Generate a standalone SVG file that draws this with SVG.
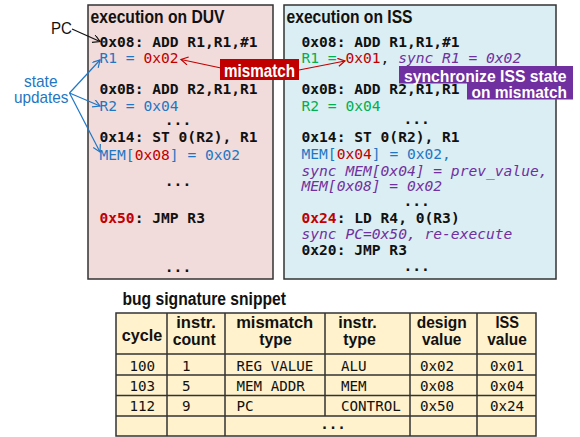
<svg xmlns="http://www.w3.org/2000/svg" width="580" height="437" viewBox="0 0 580 437">
  <style>
    .panel { stroke: #333; stroke-width: 1.5; }
    .title { font-family: "Liberation Sans", Arial, sans-serif; font-weight: bold; font-size: 18px; fill: #111; }
    .code { font-family: "DejaVu Sans Mono", "Liberation Mono", monospace; font-size: 14.6px; }
    .b { font-weight: bold; fill: #111; }
    .blue { fill: #1f77c4; }
    .red { fill: #c00000; }
    .green { fill: #00b050; }
    .sync { fill: #7030a0; font-style: italic; }
    .note { font-family: "Liberation Sans", Arial, sans-serif; font-size: 17px; }
    .tag { font-family: "Liberation Sans", Arial, sans-serif; font-weight: bold; fill: #fff; }
    .hdr { font-family: "Liberation Sans", Arial, sans-serif; font-weight: bold; font-size: 16.5px; fill: #111; text-anchor: middle; }
    .cell { font-family: "DejaVu Sans Mono", "Liberation Mono", monospace; font-size: 14.2px; fill: #111; }
    .grid { stroke: #333; stroke-width: 1.5; fill: none; }
  </style>
  <defs>
    <marker id="arrBlack" markerWidth="10" markerHeight="10" refX="8" refY="4" orient="auto" markerUnits="userSpaceOnUse">
      <path d="M1,0 L8,4 L1,8" fill="none" stroke="#111" stroke-width="1.2"/>
    </marker>
    <marker id="arrBlue" markerWidth="10" markerHeight="10" refX="8" refY="4" orient="auto" markerUnits="userSpaceOnUse">
      <path d="M1,0 L8,4 L1,8" fill="none" stroke="#1f77c4" stroke-width="1.2"/>
    </marker>
    <marker id="arrRed" markerWidth="10" markerHeight="10" refX="8" refY="4" orient="auto" markerUnits="userSpaceOnUse">
      <path d="M1,0 L8,4 L1,8" fill="none" stroke="#c00000" stroke-width="1.2"/>
    </marker>
  </defs>

  <!-- DUV execution trace -->
  <g id="duv">
    <rect class="panel" x="88" y="5" width="185" height="274" fill="#f2dcdb"/>
    <text class="title" x="90.5" y="22.5" textLength="134" lengthAdjust="spacingAndGlyphs">execution on DUV</text>
    <g class="code">
      <text class="b" x="99.5" y="46.5">0x08: ADD R1,R1,#1</text>
      <text x="99.5" y="63"><tspan class="blue">R1 = </tspan><tspan class="red">0x02</tspan></text>
      <text class="b" x="99.5" y="94">0x0B: ADD R2,R1,R1</text>
      <text class="blue" x="99.5" y="111">R2 = 0x04</text>
      <text class="b" x="178" y="125" text-anchor="middle">...</text>
      <text class="b" x="99.5" y="141.5">0x14: ST 0(R2), R1</text>
      <text x="99.5" y="159.5"><tspan class="blue">MEM[</tspan><tspan class="red">0x08</tspan><tspan class="blue">] = 0x02</tspan></text>
      <text class="b" x="178" y="186" text-anchor="middle">...</text>
      <text class="b" x="99.5" y="223"><tspan class="red">0x50</tspan>: JMP R3</text>
      <text class="b" x="178" y="272" text-anchor="middle">...</text>
    </g>
  </g>

  <!-- ISS execution trace -->
  <g id="iss">
    <rect class="panel" x="284" y="5" width="272" height="274" fill="#dbeef3"/>
    <text class="title" x="286.5" y="22.5" textLength="126" lengthAdjust="spacingAndGlyphs">execution on ISS</text>
    <g class="code">
      <text class="b" x="301.5" y="46.5">0x08: ADD R1,R1,#1</text>
      <text x="301.5" y="63"><tspan class="green">R1 = </tspan><tspan class="red">0x01</tspan><tspan fill="#111">, </tspan><tspan class="sync">sync R1 = 0x02</tspan></text>
      <text class="b" x="301.5" y="94">0x0B: ADD R2,R1,R1</text>
      <text class="green" x="301.5" y="111">R2 = 0x04</text>
      <text class="b" x="416.7" y="124" text-anchor="middle">...</text>
      <text class="b" x="301.5" y="141.5">0x14: ST 0(R2), R1</text>
      <text x="301.5" y="159"><tspan class="blue">MEM[</tspan><tspan class="red">0x04</tspan><tspan class="blue">] = 0x02,</tspan></text>
      <text class="sync" x="301.5" y="175.5">sync MEM[0x04] = prev_value,</text>
      <text class="sync" x="301.5" y="191">MEM[0x08] = 0x02</text>
      <text class="b" x="416.7" y="205.5" text-anchor="middle">...</text>
      <text class="b" x="301.5" y="223"><tspan class="red">0x24</tspan>: LD R4, 0(R3)</text>
      <text class="sync" x="301.5" y="239">sync PC=0x50, re-execute</text>
      <text class="b" x="301.5" y="255">0x20: JMP R3</text>
      <text class="b" x="416.7" y="270.5" text-anchor="middle">...</text>
    </g>
  </g>

  <!-- program counter label -->
  <g id="pc-label">
    <text class="note" x="51" y="34" fill="#111" textLength="21" lengthAdjust="spacingAndGlyphs">PC</text>
  </g>

  <!-- state updates label -->
  <g id="state-updates">
    <text class="note blue" x="24" y="87" font-size="16" textLength="33.5" lengthAdjust="spacingAndGlyphs">state</text>
    <text class="note blue" x="14" y="102.5" font-size="16" textLength="54.5" lengthAdjust="spacingAndGlyphs">updates</text>
  </g>

  <!-- mismatch tag -->
  <g id="mismatch">
    <rect x="220" y="59" width="79" height="21" fill="#c00000"/>
    <text class="tag" x="224" y="76.5" font-size="18" textLength="71" lengthAdjust="spacingAndGlyphs">mismatch</text>
  </g>

  <!-- synchronization tag -->
  <g id="sync-tag">
    <rect x="399" y="66" width="174" height="17.5" fill="#7030a0"/>
    <rect x="467" y="83" width="106" height="16.5" fill="#7030a0"/>
    <text class="tag" x="404" y="81.5" font-size="16" textLength="162.5" lengthAdjust="spacingAndGlyphs">synchronize ISS state</text>
    <text class="tag" x="471.5" y="97.5" font-size="16" textLength="95.5" lengthAdjust="spacingAndGlyphs">on mismatch</text>
  </g>

  <!-- connectors -->
  <g id="connectors" fill="none" stroke-width="1.2">
    <path d="M72,29 L100,41.5" stroke="#111" marker-end="url(#arrBlack)"/>
    <path d="M69.5,93 L100,60" stroke="#1f77c4" marker-end="url(#arrBlue)"/>
    <path d="M69.5,93 L100,106" stroke="#1f77c4" marker-end="url(#arrBlue)"/>
    <path d="M69.5,93 L100,152" stroke="#1f77c4" marker-end="url(#arrBlue)"/>
    <path d="M221,68 L181,59.5" stroke="#c00000" marker-end="url(#arrRed)"/>
    <path d="M299,70 L345,61" stroke="#c00000" marker-end="url(#arrRed)"/>
  </g>

  <!-- bug signature table -->
  <g id="bug-signature">
    <text class="title" x="122.5" y="304.5" font-size="15" textLength="163.5" lengthAdjust="spacingAndGlyphs">bug signature snippet</text>
    <rect x="116" y="313" width="420" height="123" fill="#fff2cc"/>
    <path class="grid" d="M116,313 H536 V436 H116 Z M116,354 H536 M116,375 H536 M116,395.5 H536 M116,416 H536 M167,313 V436 M225,313 V436 M325,313 V416 M410,313 V436 M477,313 V436"/>

    <text class="hdr" x="142" y="340.5" textLength="40.5" lengthAdjust="spacingAndGlyphs">cycle</text>
    <text class="hdr" x="196" y="328" textLength="39.5" lengthAdjust="spacingAndGlyphs">instr.</text>
    <text class="hdr" x="194.2" y="345" textLength="43" lengthAdjust="spacingAndGlyphs">count</text>
    <text class="hdr" x="274.7" y="328" textLength="77" lengthAdjust="spacingAndGlyphs">mismatch</text>
    <text class="hdr" x="275.5" y="345" textLength="32.5" lengthAdjust="spacingAndGlyphs">type</text>
    <text class="hdr" x="357.5" y="328" textLength="38.5" lengthAdjust="spacingAndGlyphs">instr.</text>
    <text class="hdr" x="359.5" y="345" textLength="32.5" lengthAdjust="spacingAndGlyphs">type</text>
    <text class="hdr" x="441.7" y="328" textLength="50" lengthAdjust="spacingAndGlyphs">design</text>
    <text class="hdr" x="441.7" y="345" textLength="39.5" lengthAdjust="spacingAndGlyphs">value</text>
    <text class="hdr" x="507.3" y="328" textLength="23.5" lengthAdjust="spacingAndGlyphs">ISS</text>
    <text class="hdr" x="507" y="345" textLength="39.5" lengthAdjust="spacingAndGlyphs">value</text>

    <text class="cell" x="129.5" y="370.5">100</text>
    <text class="cell" x="182" y="370.5">1</text>
    <text class="cell" x="236.5" y="370.5">REG VALUE</text>
    <text class="cell" x="341" y="370.5">ALU</text>
    <text class="cell" x="420" y="370.5">0x02</text>
    <text class="cell" x="490" y="370.5">0x01</text>

    <text class="cell" x="129.5" y="390.7">103</text>
    <text class="cell" x="182" y="390.7">5</text>
    <text class="cell" x="236.5" y="390.7">MEM ADDR</text>
    <text class="cell" x="341" y="390.7">MEM</text>
    <text class="cell" x="420" y="390.7">0x08</text>
    <text class="cell" x="490" y="390.7">0x04</text>

    <text class="cell" x="129.5" y="411">112</text>
    <text class="cell" x="182" y="411">9</text>
    <text class="cell" x="236.5" y="411">PC</text>
    <text class="cell" x="341" y="411">CONTROL</text>
    <text class="cell" x="420" y="411">0x50</text>
    <text class="cell" x="490" y="411">0x24</text>

    <text class="cell" x="333" y="428.5" font-weight="bold" text-anchor="middle">...</text>
  </g>
</svg>
